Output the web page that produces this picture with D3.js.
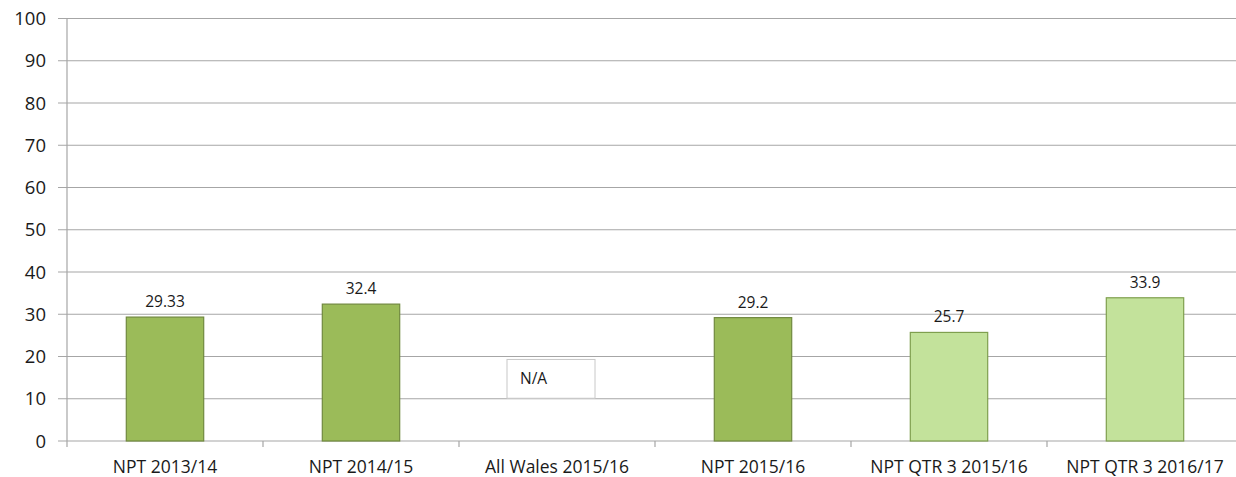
<!DOCTYPE html>
<html>
<head>
<meta charset="utf-8">
<script src="https://cdn.jsdelivr.net/npm/d3@7"></script>
<style>
  body { margin: 0; background: #fff; }
  text { font-family: "Open Sans", "Liberation Sans", sans-serif; fill: #1a1a1a; }
</style>
</head>
<body>
<svg width="1236" height="477"></svg>
<script>
// chart data
var categories = ["NPT 2013/14", "NPT 2014/15", "All Wales 2015/16", "NPT 2015/16", "NPT QTR 3 2015/16", "NPT QTR 3 2016/17"];
var values     = [29.33, 32.4, null, 29.2, 25.7, 33.9];
var valueLabels = ["29.33", "32.4", "N/A", "29.2", "25.7", "33.9"];
var isQuarter  = [false, false, false, false, true, true];
var yTicks     = [0, 10, 20, 30, 40, 50, 60, 70, 80, 90, 100];

var svg = d3.select("svg");
var margin = {top: 18.5, left: 67},
    width  = 1176,
    height = 422.5;

var g = svg.append("g")
  .attr("transform", "translate(" + margin.left + "," + margin.top + ")");

var x = d3.scaleBand().domain(categories).range([0, width]).paddingInner(0.6).paddingOuter(0.3);
var xOuter = d3.scaleBand().domain(categories).range([0, width]);
var y = d3.scaleLinear().domain([0, 100]).range([height, 0]);

// gridlines
g.selectAll(".grid").data(yTicks).enter().append("line")
  .attr("x1", -9).attr("x2", width)
  .attr("y1", d => y(d)).attr("y2", d => y(d))
  .attr("stroke", "#a6a6a6").attr("stroke-width", 1.2);

// y labels
g.selectAll(".ylab").data(yTicks).enter().append("text")
  .attr("x", -21).attr("y", d => y(d))
  .attr("dy", "0.36em")
  .attr("text-anchor", "end")
  .style("font-size", "18.5px")
  .text(d => d);

// y axis line
g.append("line").attr("x1", 0).attr("x2", 0).attr("y1", 0).attr("y2", height + 6)
  .attr("stroke", "#a6a6a6").attr("stroke-width", 1.2);

// x category ticks
g.selectAll(".xtick").data(categories.slice(1)).enter().append("line")
  .attr("x1", d => xOuter(d)).attr("x2", d => xOuter(d))
  .attr("y1", height).attr("y2", height + 6)
  .attr("stroke", "#a6a6a6").attr("stroke-width", 1.2);

// bars
var bars = categories.map((c, i) => ({c: c, v: values[i], lab: valueLabels[i], q: isQuarter[i]}));

g.selectAll(".bar").data(bars.filter(d => d.v != null)).enter().append("rect")
  .attr("x", d => x(d.c) + 0.5)
  .attr("width", x.bandwidth() - 1)
  .attr("y", d => y(d.v))
  .attr("height", d => height - y(d.v))
  .attr("fill", d => d.q ? "#c3e29b" : "#9bbb59")
  .attr("stroke", d => d.q ? "#7f9f4e" : "#71893f")
  .attr("stroke-width", 1.2);

// value labels
g.selectAll(".vlab").data(bars.filter(d => d.v != null)).enter().append("text")
  .attr("x", d => x(d.c) + x.bandwidth() / 2)
  .attr("y", d => y(d.v) - 10)
  .attr("text-anchor", "middle")
  .style("font-size", "15.5px")
  .text(d => d.lab);

// N/A box
var na = bars.filter(d => d.v == null);
var naG = g.selectAll(".na").data(na).enter().append("g");
naG.append("rect")
  .attr("x", d => xOuter(d.c) + xOuter.bandwidth() / 2 - 50)
  .attr("y", y(19.3))
  .attr("width", 88)
  .attr("height", y(10) - y(19.3) - 0.5)
  .attr("fill", "#fff")
  .attr("stroke", "#c8c8c8")
  .attr("stroke-width", 1);
naG.append("text")
  .attr("x", d => xOuter(d.c) + xOuter.bandwidth() / 2 - 37)
  .attr("y", y(14.7))
  .attr("dy", "0.36em")
  .style("font-size", "15.5px")
  .text(d => d.lab);

// x labels
g.selectAll(".xlab").data(categories).enter().append("text")
  .attr("x", d => xOuter(d) + xOuter.bandwidth() / 2)
  .attr("y", height + 32)
  .attr("text-anchor", "middle")
  .style("font-size", "17.5px")
  .text(d => d);
</script>
</body>
</html>
